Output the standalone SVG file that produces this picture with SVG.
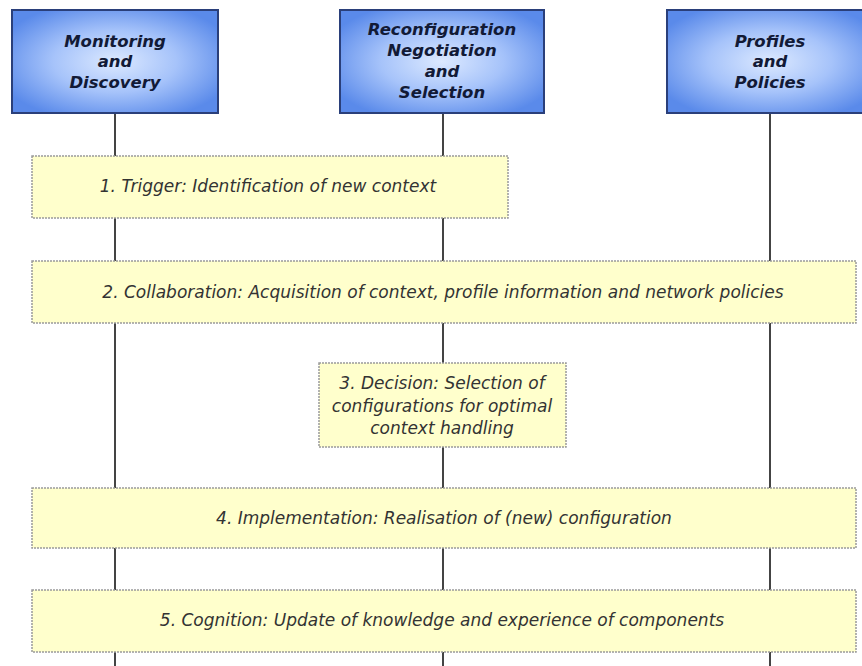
<svg xmlns="http://www.w3.org/2000/svg" width="862" height="666" viewBox="0 0 862 666">
<defs>
<radialGradient id="hg" cx="50%" cy="50%" r="60%">
<stop offset="0" stop-color="#dce9ff"/>
<stop offset="0.5" stop-color="#a6c3fa"/>
<stop offset="1" stop-color="#5a8aea"/>
</radialGradient>
<style>
.hdr{fill:url(#hg);stroke:#2a3f7a;stroke-width:2}
.ht{font-family:"DejaVu Sans",Verdana,sans-serif;font-size:16.5px;font-weight:bold;font-style:italic;fill:#121a36;text-anchor:middle}
.life{stroke:#444;stroke-width:2}
.step{fill:#ffffcc;stroke:#9a9a9a;stroke-width:1.5;stroke-dasharray:2 1}
.st{font-family:"DejaVu Sans",Verdana,sans-serif;font-size:17px;font-style:italic;fill:#333;text-anchor:middle}
</style>
</defs>
<rect width="862" height="666" fill="#fff"/>
<g id="connectors">
<line class="life" x1="115" y1="113" x2="115" y2="666"/>
<line class="life" x1="443" y1="113" x2="443" y2="666"/>
<line class="life" x1="770" y1="113" x2="770" y2="666"/>
</g>
<g id="monitoring">
<rect class="hdr" x="12" y="10" width="206" height="103"/>
<text class="ht" x="115" y="47">Monitoring</text>
<text class="ht" x="115" y="67">and</text>
<text class="ht" x="115" y="88">Discovery</text>
</g>
<g id="reconfiguration">
<rect class="hdr" x="340" y="10" width="204" height="103"/>
<text class="ht" x="442" y="35">Reconfiguration</text>
<text class="ht" x="442" y="56">Negotiation</text>
<text class="ht" x="442" y="77">and</text>
<text class="ht" x="442" y="98">Selection</text>
</g>
<g id="profiles">
<rect class="hdr" x="667" y="10" width="206" height="103"/>
<text class="ht" x="770" y="47">Profiles</text>
<text class="ht" x="770" y="67">and</text>
<text class="ht" x="770" y="88">Policies</text>
</g>
<g id="step1">
<rect class="step" x="32" y="156" width="476" height="62"/>
<text class="st" x="268" y="192">1. Trigger: Identification of new context</text>
</g>
<g id="step2">
<rect class="step" x="32" y="261" width="824" height="62"/>
<text class="st" x="443" y="298">2. Collaboration: Acquisition of context, profile information and network policies</text>
</g>
<g id="step3">
<rect class="step" x="319" y="363" width="247" height="84"/>
<text class="st" x="442" y="389">3. Decision: Selection of</text>
<text class="st" x="442" y="412">configurations for optimal</text>
<text class="st" x="442" y="434">context handling</text>
</g>
<g id="step4">
<rect class="step" x="32" y="488" width="824" height="60"/>
<text class="st" x="444" y="524">4. Implementation: Realisation of (new) configuration</text>
</g>
<g id="step5">
<rect class="step" x="32" y="590" width="824" height="62"/>
<text class="st" x="442" y="626">5. Cognition: Update of knowledge and experience of components</text>
</g>
</svg>
